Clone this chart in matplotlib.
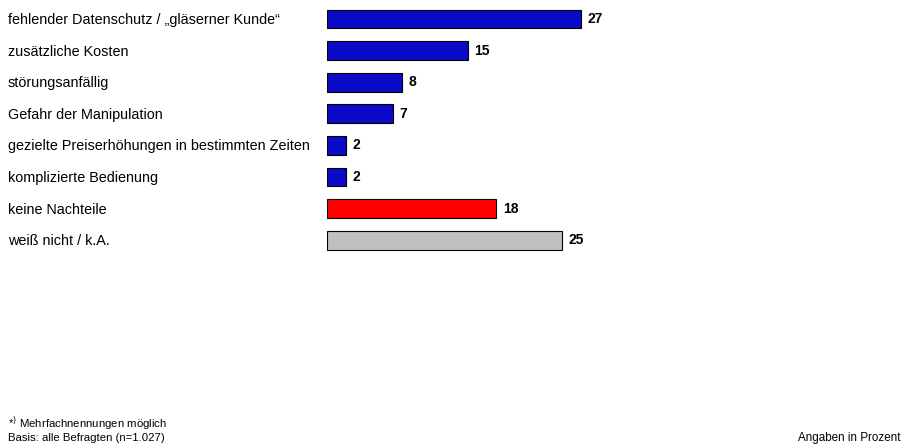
import matplotlib
matplotlib.use("Agg")
import matplotlib.pyplot as plt
import matplotlib.transforms as mtransforms

plt.rcParams['font.family'] = ['Liberation Sans', 'DejaVu Sans']

# data
labels = [
    "fehlender Datenschutz / \u201egläserner Kunde\u201c",
    "zusätzliche Kosten",
    "störungsanfällig",
    "Gefahr der Manipulation",
    "gezielte Preiserhöhungen in bestimmten Zeiten",
    "komplizierte Bedienung",
    "keine Nachteile",
    "weiß nicht / k.A.",
]
values = [27, 15, 8, 7, 2, 2, 18, 25]
colors = ["#0A0AC8"] * 6 + ["#FF0000", "#C0C0C0"]

W, H = 902, 445
fig = plt.figure(figsize=(W / 100, H / 100), dpi=100)

# axes placed in pixel terms: bars start at x=327, ~9.41 px per percent
left_px, px_per_unit, xmax = 327, 9.41, 60
row_px, top_px = 31.6, 3.2
ax = fig.add_axes([left_px / W, (H - top_px - 8 * row_px) / H,
                   px_per_unit * xmax / W, 8 * row_px / H])

y = list(range(len(values)))
ax.barh(y, values, height=0.6, color=colors, edgecolor="black", linewidth=0.8)
ax.set_xlim(0, xmax)
ax.set_ylim(7.5, -0.5)
ax.axis("off")

for yi, v in zip(y, values):
    ax.annotate(str(v), xy=(v, yi), xytext=(4.5, 0), textcoords="offset points",
                va="center", ha="left", fontsize=10, fontweight="bold")

trans = mtransforms.blended_transform_factory(fig.transFigure, ax.transData)
for yi, lab in zip(y, labels):
    ax.text(8 / W, yi + 0.03, lab, transform=trans, va="center", ha="left",
            fontsize=10.4)

# footnote as one block, lines sit tight like in the source
fig.text(8 / W, 1 - 443 / H,
         "*$^{)}$ Mehrfachnennungen möglich\nBasis: alle Befragten (n=1.027)",
         fontsize=8.2, va="bottom", ha="left", linespacing=0.95)
fig.text(900 / W, 1 - 438 / H, "Angaben in Prozent",
         fontsize=8.4, va="center", ha="right")

fig.savefig("out.png", dpi=100)
